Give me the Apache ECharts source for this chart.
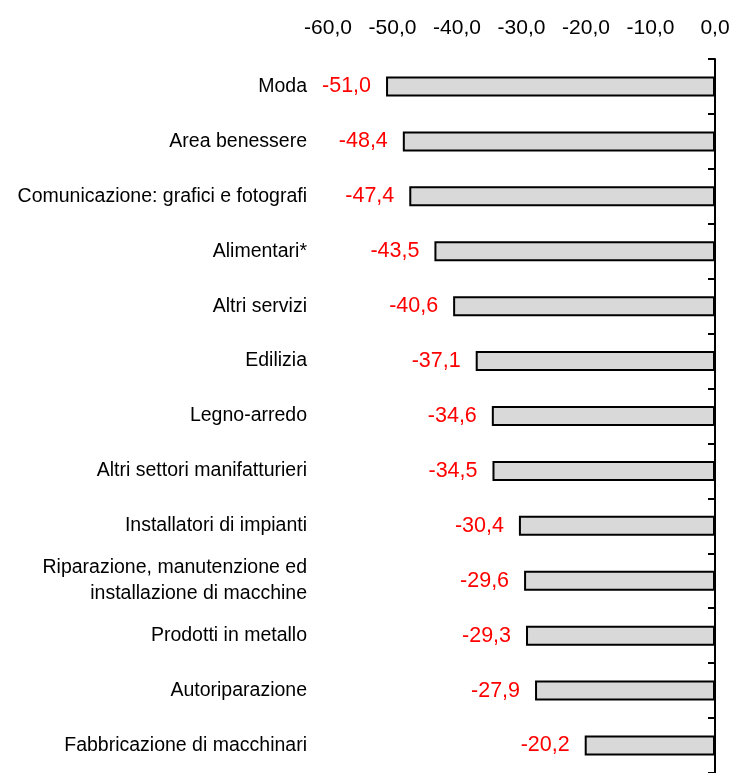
<!DOCTYPE html>
<html>
<head>
<meta charset="utf-8">
<script src="https://cdn.jsdelivr.net/npm/echarts@6/dist/echarts.min.js"></script>
<style>
  html, body { margin: 0; padding: 0; background: #fff; }
  #chart { width: 734px; height: 773px; }
</style>
</head>
<body>
<div id="chart"></div>
<script>
var categories = [
  'Moda',
  'Area benessere',
  'Comunicazione: grafici e fotografi',
  'Alimentari*',
  'Altri servizi',
  'Edilizia',
  'Legno-arredo',
  'Altri settori manifatturieri',
  'Installatori di impianti',
  'Riparazione, manutenzione ed\ninstallazione di macchine',
  'Prodotti in metallo',
  'Autoriparazione',
  'Fabbricazione di macchinari'
];
var values = [-51.0, -48.4, -47.4, -43.5, -40.6, -37.1, -34.6, -34.5, -30.4, -29.6, -29.3, -27.9, -20.2];
var xTicks = [-60, -50, -40, -30, -20, -10, 0];

var font = '"Liberation Sans Narrow", "Arial Narrow", "Liberation Sans", Arial, sans-serif';
function comma(v) { return v.toFixed(1).replace('.', ','); }

var chart = echarts.init(document.getElementById('chart'));
chart.setOption({
  animation: false,
  grid: { left: 328, right: 19, top: 59, height: 717, containLabel: false },
  xAxis: {
    type: 'value',
    position: 'top',
    min: xTicks[0],
    max: xTicks[xTicks.length - 1],
    interval: 10,
    axisLine: { show: false },
    axisTick: { show: false },
    splitLine: { show: false },
    axisLabel: {
      margin: 20,
      color: '#000',
      fontFamily: font,
      fontSize: 21,
      formatter: function (v) { return comma(v); }
    }
  },
  yAxis: [{
    type: 'category',
    data: categories,
    inverse: true,
    position: 'left',
    axisLine: { show: false },
    axisTick: { show: false },
    axisLabel: {
      margin: 21,
      color: '#000',
      fontFamily: font,
      fontSize: 19.5,
      lineHeight: 26,
      align: 'right'
    }
  }, {
    type: 'category',
    data: categories,
    inverse: true,
    position: 'right',
    axisLine: { show: true, lineStyle: { color: '#000', width: 2 } },
    axisTick: { show: true, inside: true, length: 7, lineStyle: { color: '#000', width: 2 } },
    axisLabel: { show: false }
  }],
  series: [{
    type: 'bar',
    data: values,
    barWidth: 20,
    itemStyle: { color: '#d9d9d9', borderColor: '#000', borderWidth: 2 },
    label: {
      show: true,
      position: 'left',
      distance: 15,
      color: '#ff0000',
      fontFamily: font,
      fontSize: 21.5,
      formatter: function (p) { return comma(p.value); }
    }
  }]
});
</script>
</body>
</html>
